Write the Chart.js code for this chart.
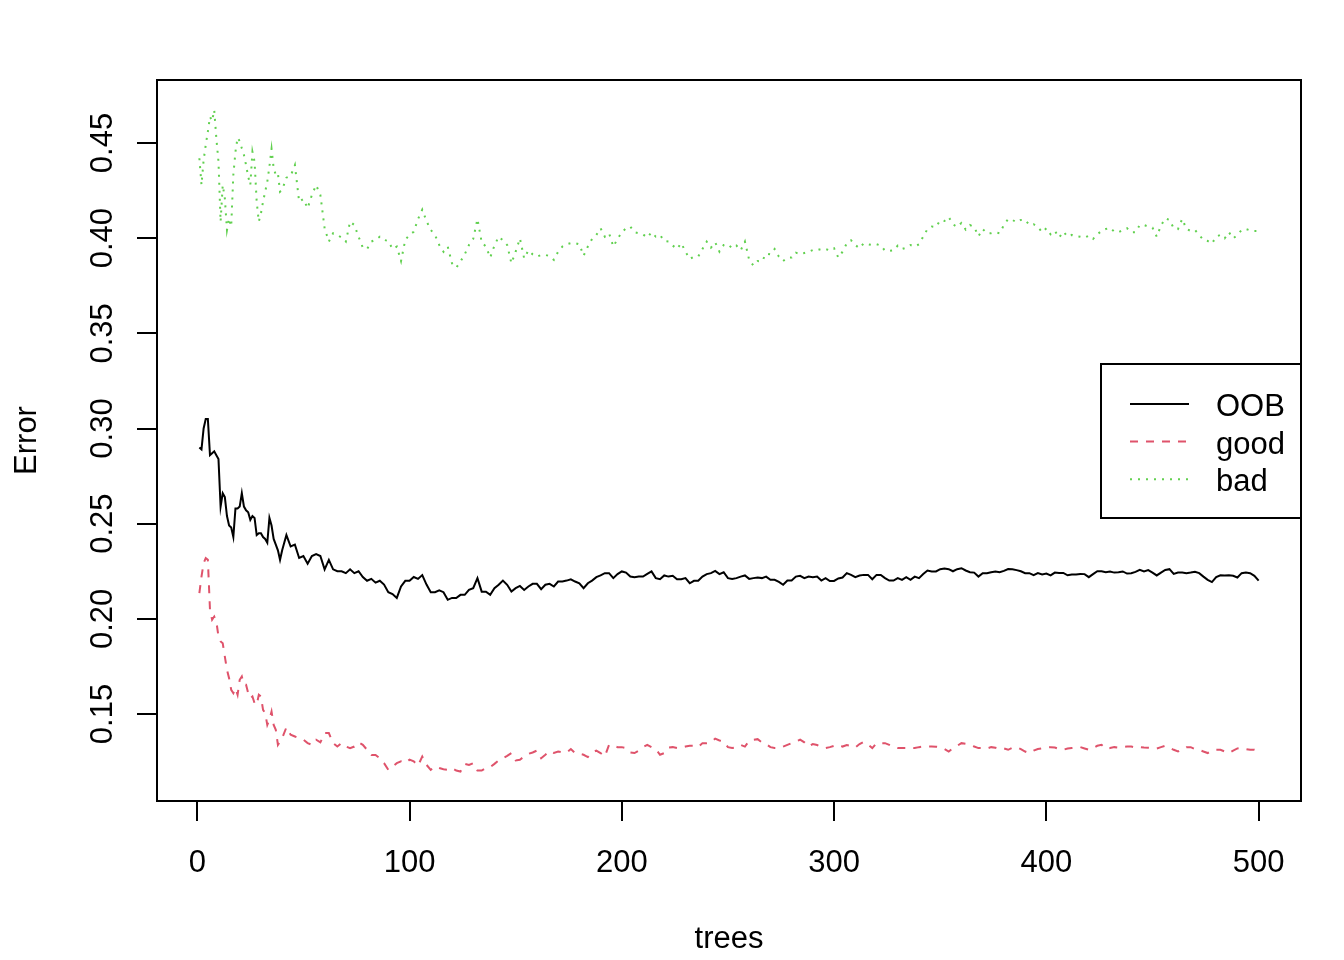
<!DOCTYPE html>
<html>
<head>
<meta charset="utf-8">
<script src="https://cdn.jsdelivr.net/npm/chart.js@4.4.1/dist/chart.umd.min.js"></script>
<style>
  html, body { margin: 0; padding: 0; background: #fff; }
  canvas { display: block; }
</style>
</head>
<body>
<canvas id="chart" width="1344" height="960"></canvas>
<script>
// number of trees at each sample
const trees = [
  1, 2, 3, 4, 5, 6, 7, 8, 9, 10, 11, 12, 13, 14, 15, 16, 17, 18, 19, 20,
  21, 22, 23, 24, 25, 26, 27, 28, 29, 30, 31, 32, 33, 34, 35, 36, 37, 38, 39, 40,
  42, 44, 46, 48, 50, 52, 54, 56, 58, 60, 62, 64, 66, 68, 70, 72, 74, 76, 78, 80,
  82, 84, 86, 88, 90, 92, 94, 96, 98, 100, 102, 104, 106, 108, 110, 112, 114, 116, 118, 120,
  122, 124, 126, 128, 130, 132, 134, 136, 138, 140, 142, 144, 146, 148, 150, 152, 154, 156, 158, 160,
  162, 164, 166, 168, 170, 172, 174, 176, 178, 180, 182, 184, 186, 188, 190, 192, 194, 196, 198, 200,
  202, 204, 206, 208, 210, 212, 214, 216, 218, 220, 222, 224, 226, 228, 230, 232, 234, 236, 238, 240,
  242, 244, 246, 248, 250, 252, 254, 256, 258, 260, 262, 264, 266, 268, 270, 272, 274, 276, 278, 280,
  282, 284, 286, 288, 290, 292, 294, 296, 298, 300, 302, 304, 306, 308, 310, 312, 314, 316, 318, 320,
  322, 324, 326, 328, 330, 332, 334, 336, 338, 340, 342, 344, 346, 348, 350, 352, 354, 356, 358, 360,
  362, 364, 366, 368, 370, 372, 374, 376, 378, 380, 382, 384, 386, 388, 390, 392, 394, 396, 398, 400,
  402, 404, 406, 408, 410, 412, 414, 416, 418, 420, 422, 424, 426, 428, 430, 432, 434, 436, 438, 440,
  442, 444, 446, 448, 450, 452, 454, 456, 458, 460, 462, 464, 466, 468, 470, 472, 474, 476, 478, 480,
  482, 484, 486, 488, 490, 492, 494, 496, 498, 500
];

// OOB error rate
const oob = [
  0.290, 0.289, 0.300, 0.305, 0.305, 0.286, 0.287, 0.288, 0.286, 0.284,
  0.259, 0.266, 0.264, 0.254, 0.249, 0.248, 0.243, 0.258, 0.258, 0.259,
  0.266, 0.259, 0.257, 0.256, 0.252, 0.254, 0.253, 0.244, 0.245, 0.245,
  0.243, 0.242, 0.240, 0.253, 0.249, 0.242, 0.239, 0.236, 0.231, 0.236,
  0.244, 0.238, 0.239, 0.232, 0.233, 0.229, 0.233, 0.234, 0.233, 0.226,
  0.231, 0.226, 0.225, 0.225, 0.224, 0.226, 0.224, 0.225, 0.222, 0.220,
  0.221, 0.219, 0.220, 0.218, 0.214, 0.213, 0.211, 0.217, 0.220, 0.220,
  0.222, 0.221, 0.223, 0.218, 0.214, 0.214, 0.215, 0.214, 0.210, 0.211,
  0.2109, 0.2126, 0.2126, 0.2152, 0.2161, 0.2214, 0.2143, 0.2143, 0.2126, 0.2161,
  0.2179, 0.2201, 0.2179, 0.2143, 0.2161, 0.2173, 0.2152, 0.2170, 0.2184, 0.2184,
  0.2156, 0.2179, 0.2184, 0.2170, 0.2196, 0.2196, 0.2201, 0.2208, 0.2196, 0.2187,
  0.2161, 0.2187, 0.2201, 0.2219, 0.2228, 0.2240, 0.2240, 0.2214, 0.2235, 0.2249,
  0.2243, 0.2222, 0.2219, 0.2222, 0.2222, 0.2236, 0.2249, 0.2214, 0.2208, 0.2228,
  0.2222, 0.2226, 0.2208, 0.2208, 0.2214, 0.2187, 0.2200, 0.2200, 0.2222, 0.2235,
  0.2240, 0.2252, 0.2235,
  0.2245, 0.2214, 0.2210, 0.2214, 0.2222, 0.2228, 0.2210, 0.2214, 0.2217, 0.2214,
  0.2222, 0.2205, 0.2205, 0.2194, 0.2179, 0.2201, 0.2201, 0.2222, 0.2226, 0.2214,
  0.2222, 0.2219, 0.2222, 0.2201, 0.2214, 0.2199, 0.2199, 0.2212, 0.2217, 0.2240,
  0.2231, 0.2219, 0.2228, 0.2231, 0.2231, 0.2208, 0.2231, 0.2231, 0.2214, 0.2201,
  0.2201, 0.2214, 0.2205, 0.2219, 0.2205, 0.2222, 0.2214, 0.2236, 0.2254, 0.2249,
  0.2249, 0.2261, 0.2264, 0.2261, 0.2250, 0.2261, 0.2266, 0.2254, 0.2245, 0.2243,
  0.2222,
  0.2240, 0.2240, 0.2245, 0.2249, 0.2245, 0.2252, 0.2262, 0.2261, 0.2256, 0.2250,
  0.2240, 0.2240, 0.2229, 0.2240, 0.2233, 0.2238, 0.2228, 0.2243, 0.2241, 0.2241,
  0.2229, 0.2233, 0.2233, 0.2236, 0.2235, 0.2219, 0.2235, 0.2250, 0.2250, 0.2245,
  0.2249, 0.2243, 0.2245, 0.2249, 0.2238, 0.2240, 0.2247, 0.2257, 0.2249, 0.2256,
  0.2243, 0.2228, 0.2243, 0.2257, 0.2261, 0.2236, 0.2243, 0.2243, 0.2240, 0.2243,
  0.2247, 0.2240, 0.2222, 0.2205, 0.2193, 0.2219, 0.2229, 0.2228, 0.2229, 0.2226,
  0.2217, 0.2240, 0.2243, 0.2240, 0.2226, 0.2201
];

// class "good" error rate
const good = [
  0.2135, 0.2222, 0.2293, 0.2319, 0.2310, 0.2047, 0.1995, 0.2012, 0.1986, 0.1907,
  0.1881, 0.1872, 0.1802, 0.1732, 0.1688, 0.1627, 0.1610, 0.1636, 0.1601, 0.1680,
  0.1697, 0.1654, 0.1654, 0.1610, 0.1583, 0.1592, 0.1557, 0.1548, 0.1601, 0.1592,
  0.1522, 0.1505, 0.1443, 0.1470, 0.1513, 0.1443, 0.1417, 0.1338, 0.1356, 0.1373,
  0.1430, 0.1391, 0.1382, 0.1373, 0.1365, 0.1347, 0.1338, 0.1365, 0.1351, 0.1400,
  0.1400, 0.1347, 0.1329, 0.1347, 0.1329, 0.1321, 0.1329, 0.1351, 0.1338, 0.1312,
  0.1285, 0.1285, 0.1268, 0.1242, 0.1207, 0.1224, 0.1242, 0.1251, 0.1242, 0.1260,
  0.1251, 0.1228, 0.1277, 0.1233, 0.1207, 0.1224, 0.1216, 0.1210, 0.1207, 0.1216,
  0.1203, 0.1198, 0.1238, 0.1232, 0.1242, 0.1203, 0.1203, 0.1217, 0.1221, 0.1238,
  0.1256, 0.1268, 0.1280, 0.1295, 0.1256, 0.1260, 0.1277, 0.1291, 0.1298, 0.1308,
  0.1268, 0.1286, 0.1305, 0.1295, 0.1303, 0.1298, 0.1298, 0.1316, 0.1295, 0.1291,
  0.1286, 0.1274, 0.1298, 0.1308, 0.1295, 0.1277, 0.1338, 0.1333, 0.1326, 0.1326,
  0.1321, 0.1298, 0.1295, 0.1308, 0.1326, 0.1338, 0.1326, 0.1316, 0.1286, 0.1295,
  0.1324, 0.1326, 0.1321, 0.1323, 0.1329, 0.1333, 0.1333, 0.1326, 0.1347, 0.1347,
  0.1351, 0.1371, 0.1361,
  0.1356, 0.1326, 0.1321, 0.1326, 0.1338, 0.1329, 0.1359, 0.1365, 0.1368, 0.1351,
  0.1342, 0.1326, 0.1321, 0.1321, 0.1329, 0.1338, 0.1347, 0.1356, 0.1365, 0.1351,
  0.1329, 0.1342, 0.1337, 0.1326, 0.1321, 0.1326, 0.1333, 0.1338, 0.1329, 0.1337,
  0.1333, 0.1324, 0.1342, 0.1354, 0.1340, 0.1321, 0.1347, 0.1347, 0.1347, 0.1338,
  0.1326, 0.1321, 0.1321, 0.1321, 0.1323, 0.1321, 0.1326, 0.1329, 0.1329, 0.1329,
  0.1328, 0.1326, 0.1316, 0.1303, 0.1321, 0.1333, 0.1347, 0.1344, 0.1337, 0.1329,
  0.1321,
  0.1321, 0.1319, 0.1326, 0.1323, 0.1316, 0.1319, 0.1312, 0.1323, 0.1326, 0.1316,
  0.1303, 0.1295, 0.1308, 0.1316, 0.1319, 0.1323, 0.1326, 0.1324, 0.1316, 0.1312,
  0.1319, 0.1321, 0.1323, 0.1326, 0.1319, 0.1312, 0.1321, 0.1333, 0.1338, 0.1317,
  0.1321, 0.1326, 0.1323, 0.1326, 0.1329, 0.1329, 0.1323, 0.1326, 0.1324, 0.1323,
  0.1321, 0.1319, 0.1326, 0.1333, 0.1323, 0.1312, 0.1303, 0.1316, 0.1326, 0.1326,
  0.1316, 0.1312, 0.1303, 0.1295, 0.1308, 0.1312, 0.1312, 0.1303, 0.1295, 0.1308,
  0.1319, 0.1321, 0.1316, 0.1312, 0.1312, 0.1298
];

// class "bad" error rate
const bad = [
  0.442, 0.428, 0.441, 0.449, 0.456, 0.4638, 0.4616, 0.4673, 0.4525, 0.4402,
  0.4087, 0.4279, 0.4209, 0.4043, 0.4104, 0.4061, 0.4332, 0.4454, 0.4528, 0.4510,
  0.4472, 0.4437, 0.4384, 0.4323, 0.4279, 0.4454, 0.4402, 0.4192, 0.4087, 0.4130,
  0.4192, 0.4244, 0.4297, 0.4376, 0.4469, 0.4367, 0.4332, 0.4341, 0.4244, 0.4253,
  0.4318, 0.4327, 0.4384, 0.4192, 0.4206, 0.4157, 0.4227, 0.4279, 0.4227, 0.4052,
  0.3982, 0.4026, 0.4017, 0.4003, 0.3982, 0.4087, 0.4069, 0.4008, 0.3950, 0.3943,
  0.3982, 0.3991, 0.4008, 0.3991, 0.3985, 0.3943, 0.3956, 0.3880, 0.3991, 0.4017,
  0.4034, 0.4100, 0.4150, 0.4090, 0.4043, 0.4017, 0.3964, 0.3929, 0.3956, 0.3868,
  0.3845, 0.3877, 0.3915, 0.3964, 0.3996, 0.4101, 0.3978, 0.3956, 0.3898, 0.3961,
  0.4008, 0.3989, 0.3964, 0.3868, 0.3929, 0.3999, 0.3894, 0.3936, 0.3915, 0.3903,
  0.3912, 0.3912, 0.3906, 0.3886, 0.3929, 0.3956, 0.3968, 0.3974, 0.3974, 0.3968,
  0.3908, 0.3956, 0.3996, 0.4017, 0.4052, 0.4008, 0.4026, 0.3956, 0.3996, 0.4031,
  0.4052, 0.4061, 0.4031, 0.4026, 0.4020, 0.4003, 0.4031, 0.4008, 0.4017, 0.3985,
  0.3982, 0.3961, 0.3943, 0.3974, 0.3929, 0.3891, 0.3903, 0.3903, 0.3943, 0.3982,
  0.3950, 0.3978, 0.3929,
  0.3964, 0.3968, 0.3947, 0.3961, 0.3936, 0.3982, 0.3886, 0.3856, 0.3880, 0.3877,
  0.3919, 0.3915, 0.3943, 0.3903, 0.3880, 0.3898, 0.3898, 0.3924, 0.3915, 0.3922,
  0.3929, 0.3938, 0.3943, 0.3938, 0.3943, 0.3936, 0.3947, 0.3898, 0.3929, 0.3973,
  0.3989, 0.3964, 0.3947, 0.3973, 0.3968, 0.3964, 0.3968, 0.3961, 0.3934, 0.3933,
  0.3936, 0.3961, 0.3943, 0.3950, 0.3964, 0.3956, 0.3968, 0.4008, 0.4048, 0.4061,
  0.4059, 0.4094, 0.4090, 0.4111, 0.4073, 0.4059, 0.4080, 0.4045, 0.4069, 0.4059,
  0.4010,
  0.4048, 0.4026, 0.4026, 0.4031, 0.4026, 0.4069, 0.4101, 0.4096, 0.4083, 0.4096,
  0.4096, 0.4069, 0.4073, 0.4059, 0.4031, 0.4052, 0.4020, 0.4038, 0.4003, 0.4034,
  0.4008, 0.4017, 0.4010, 0.4008, 0.4003, 0.4013, 0.3996, 0.4020, 0.4038, 0.4048,
  0.4055, 0.4034, 0.4031, 0.4043, 0.4052, 0.4031, 0.4031, 0.4069, 0.4069, 0.4061,
  0.4055, 0.4008, 0.4066, 0.4104, 0.4096, 0.4052, 0.4048, 0.4101, 0.4048, 0.4038,
  0.4043, 0.4017, 0.3991, 0.3985, 0.3971, 0.4008, 0.4017, 0.3999, 0.4031, 0.3999,
  0.4017, 0.4043, 0.4048, 0.4041, 0.4038, 0.4038
];

const xTicks = [0, 100, 200, 300, 400, 500];
const yTicks = [0.15, 0.20, 0.25, 0.30, 0.35, 0.40, 0.45];
const yTickLabels = ["0.15", "0.20", "0.25", "0.30", "0.35", "0.40", "0.45"];
const seriesNames = ["OOB", "good", "bad"];

const FONT = '31px "Liberation Sans", Arial, sans-serif';
const styles = [
  { color: '#000000', dash: [] },
  { color: '#DF536B', dash: [8, 8] },
  { color: '#61D04F', dash: [2, 6] },
];

function toPoints(values) {
  return values.map((v, i) => ({ x: trees[i], y: v }));
}

// base-R style box, axes, labels and legend
const rFrame = {
  id: 'rFrame',
  afterDraw(chart) {
    const { ctx, chartArea: a } = chart;
    const xs = chart.scales.x;
    const ys = chart.scales.y;
    ctx.save();
    ctx.strokeStyle = '#000';
    ctx.fillStyle = '#000';
    ctx.lineWidth = 2;
    ctx.setLineDash([]);
    ctx.strokeRect(a.left, a.top, a.right - a.left, a.bottom - a.top);

    // x axis
    ctx.beginPath();
    xTicks.forEach(v => {
      const px = Math.round(xs.getPixelForValue(v));
      ctx.moveTo(px, a.bottom);
      ctx.lineTo(px, a.bottom + 20);
    });
    ctx.stroke();
    ctx.font = FONT;
    ctx.textAlign = 'center';
    ctx.textBaseline = 'alphabetic';
    xTicks.forEach(v => {
      ctx.fillText(String(v), xs.getPixelForValue(v), 872);
    });

    // y axis
    ctx.beginPath();
    yTicks.forEach(v => {
      const py = Math.round(ys.getPixelForValue(v));
      ctx.moveTo(a.left, py);
      ctx.lineTo(a.left - 20, py);
    });
    ctx.stroke();
    yTicks.forEach((v, i) => {
      ctx.save();
      ctx.translate(112, ys.getPixelForValue(v));
      ctx.rotate(-Math.PI / 2);
      ctx.fillText(yTickLabels[i], 0, 0);
      ctx.restore();
    });

    // axis titles
    ctx.fillText('trees', (a.left + a.right) / 2, 948);
    ctx.save();
    ctx.translate(36, (a.top + a.bottom) / 2);
    ctx.rotate(-Math.PI / 2);
    ctx.fillText('Error', 0, 0);
    ctx.restore();

    // legend
    const lx = 1101, ly = 364, lw = 200, lh = 154;
    ctx.fillStyle = '#fff';
    ctx.fillRect(lx, ly, lw, lh);
    ctx.strokeStyle = '#000';
    ctx.lineWidth = 2;
    ctx.strokeRect(lx, ly, lw, lh);
    ctx.textAlign = 'left';
    seriesNames.forEach((name, i) => {
      const yy = 404 + i * 37.6;
      ctx.strokeStyle = styles[i].color;
      ctx.setLineDash(styles[i].dash);
      ctx.beginPath();
      ctx.moveTo(1130, yy);
      ctx.lineTo(1189, yy);
      ctx.stroke();
      ctx.setLineDash([]);
      ctx.fillStyle = '#000';
      ctx.fillText(name, 1216, yy + 12);
    });
    ctx.restore();
  }
};

new Chart(document.getElementById('chart'), {
  type: 'line',
  data: {
    datasets: [oob, good, bad].map((vals, i) => ({
      label: seriesNames[i],
      data: toPoints(vals),
      borderColor: styles[i].color,
      borderDash: styles[i].dash,
      borderWidth: 2,
      pointRadius: 0,
      tension: 0,
      fill: false,
    })),
  },
  options: {
    responsive: false,
    animation: false,
    layout: { padding: { left: 157, right: 43, top: 80, bottom: 159 } },
    plugins: { legend: { display: false }, tooltip: { enabled: false } },
    scales: {
      x: { type: 'linear', min: -18.96, max: 519.96, display: false },
      y: { type: 'linear', min: 0.1043, max: 0.4831, display: false },
    },
  },
  plugins: [rFrame],
});
</script>
</body>
</html>
